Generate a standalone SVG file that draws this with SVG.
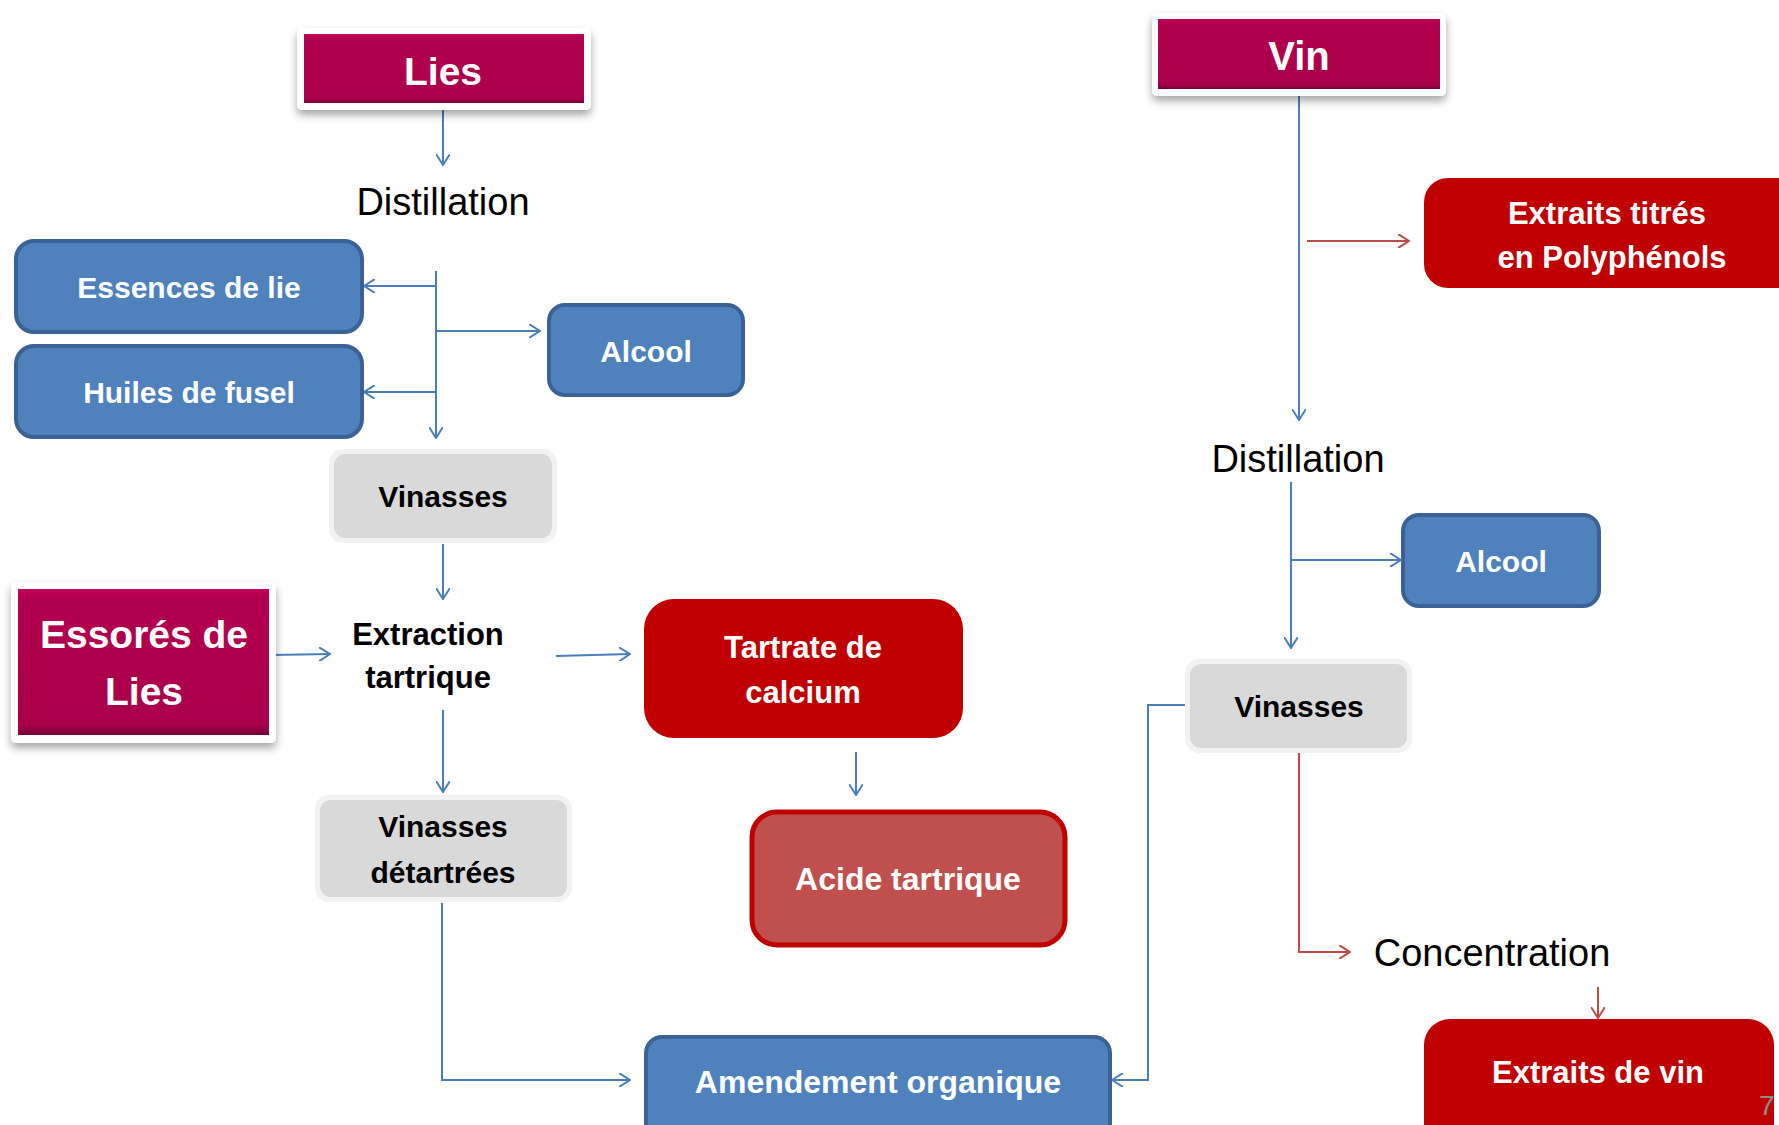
<svg xmlns="http://www.w3.org/2000/svg" width="1779" height="1125" viewBox="0 0 1779 1125">
<defs>
<style>
.t{font-family:"Liberation Sans",Arial,sans-serif;font-weight:bold;text-anchor:middle}
.w{fill:#FFFFFF}
.k{fill:#000000}
.r{font-family:"Liberation Sans",Arial,sans-serif;font-weight:normal;fill:#000;text-anchor:middle;font-size:38px}
.blue{fill:#4F81BD;stroke:#3B6296;stroke-width:4}
.grayo{fill:#F2F2F2}
.grayi{fill:#D9D9D9}
.red{fill:#C00000}
.cb{fill:none;stroke:#4A7EBB;stroke-width:2}
.cr{fill:none;stroke:#BE4B48;stroke-width:2}
</style>
<linearGradient id="mag" x1="0" y1="0" x2="0" y2="1">
<stop offset="0" stop-color="#C8005A"/>
<stop offset="0.05" stop-color="#B2004F"/>
<stop offset="0.93" stop-color="#AA004B"/>
<stop offset="1" stop-color="#730036"/>
</linearGradient>
<filter id="sh" x="-10%" y="-10%" width="120%" height="130%">
<feDropShadow dx="0" dy="5" stdDeviation="4" flood-color="#000" flood-opacity="0.35"/>
</filter>
<marker id="ab" viewBox="0 0 12 14" refX="11" refY="7" markerWidth="12" markerHeight="14" markerUnits="userSpaceOnUse" orient="auto">
<path d="M0,0 L11,7 L0,14" fill="none" stroke="#4A7EBB" stroke-width="2"/>
</marker>
<marker id="ar" viewBox="0 0 12 14" refX="11" refY="7" markerWidth="12" markerHeight="14" markerUnits="userSpaceOnUse" orient="auto">
<path d="M0,0 L11,7 L0,14" fill="none" stroke="#BE4B48" stroke-width="2"/>
</marker>
</defs>
<rect width="1779" height="1125" fill="#FFFFFF"/>

<g id="connectors">
<path class="cb" d="M443,104 V165" marker-end="url(#ab)"/>
<path class="cb" d="M436,271 V438" marker-end="url(#ab)"/>
<path class="cb" d="M436,286 H364" marker-end="url(#ab)"/>
<path class="cb" d="M436,331 H540" marker-end="url(#ab)"/>
<path class="cb" d="M436,392 H364" marker-end="url(#ab)"/>
<path class="cb" d="M443,544 V599" marker-end="url(#ab)"/>
<path class="cb" d="M272,655 L330,654" marker-end="url(#ab)"/>
<path class="cb" d="M556,656 L630,654" marker-end="url(#ab)"/>
<path class="cb" d="M856,752 V795" marker-end="url(#ab)"/>
<path class="cb" d="M443,710 V792" marker-end="url(#ab)"/>
<path class="cb" d="M442,903 V1080 H630" marker-end="url(#ab)"/>
<path class="cb" d="M1299,96 V420" marker-end="url(#ab)"/>
<path class="cr" d="M1307,241 H1409" marker-end="url(#ar)"/>
<path class="cb" d="M1291,482 V648" marker-end="url(#ab)"/>
<path class="cb" d="M1291,560 H1401" marker-end="url(#ab)"/>
<path class="cb" d="M1186,705 H1148 V1080 H1112" marker-end="url(#ab)"/>
<path class="cr" d="M1299,753 V952 H1350" marker-end="url(#ar)"/>
<path class="cr" d="M1598,987 V1018" marker-end="url(#ar)"/>
</g>

<g id="lies">
<rect x="297" y="28" width="294" height="82" rx="5" fill="#FFFFFF" filter="url(#sh)"/>
<rect x="304" y="34" width="280" height="69" fill="url(#mag)"/>
<text class="t w" x="443" y="85" font-size="39">Lies</text>
</g>

<g id="distillation1"><text class="r" x="443" y="215">Distillation</text></g>

<g id="essences">
<rect class="blue" x="16" y="241" width="346" height="91" rx="18"/>
<text class="t w" x="189" y="298" font-size="30">Essences de lie</text>
</g>

<g id="huiles">
<rect class="blue" x="16" y="346" width="346" height="91" rx="18"/>
<text class="t w" x="189" y="403" font-size="30">Huiles de fusel</text>
</g>

<g id="alcool1">
<rect class="blue" x="549" y="305" width="194" height="90" rx="16"/>
<text class="t w" x="646" y="362" font-size="30">Alcool</text>
</g>

<g id="vinasses1">
<rect class="grayo" x="329" y="449" width="228" height="94" rx="14"/>
<rect class="grayi" x="334" y="454" width="218" height="84" rx="11"/>
<text class="t k" x="443" y="507" font-size="30">Vinasses</text>
</g>

<g id="essores">
<rect x="11" y="582" width="265" height="161" rx="5" fill="#FFFFFF" filter="url(#sh)"/>
<rect x="18" y="589" width="251" height="146" fill="url(#mag)"/>
<text class="t w" x="144" y="648" font-size="39">Essorés de</text>
<text class="t w" x="144" y="705" font-size="39">Lies</text>
</g>

<g id="extraction">
<text class="t k" x="428" y="645" font-size="31">Extraction</text>
<text class="t k" x="428" y="688" font-size="31">tartrique</text>
</g>

<g id="tartrate">
<rect class="red" x="644" y="599" width="319" height="139" rx="30"/>
<text class="t w" x="803" y="658" font-size="31">Tartrate de</text>
<text class="t w" x="803" y="703" font-size="31">calcium</text>
</g>

<g id="acide">
<rect x="752" y="812" width="313" height="133" rx="25" fill="#C0504D" stroke="#C00000" stroke-width="5"/>
<text class="t w" x="908" y="890" font-size="32">Acide tartrique</text>
</g>

<g id="vinasses-detartrees">
<rect class="grayo" x="315" y="795" width="257" height="107" rx="14"/>
<rect class="grayi" x="320" y="800" width="247" height="97" rx="11"/>
<text class="t k" x="443" y="837" font-size="30">Vinasses</text>
<text class="t k" x="443" y="883" font-size="30">détartrées</text>
</g>

<g id="amendement">
<rect class="blue" x="646" y="1037" width="464" height="110" rx="16"/>
<text class="t w" x="878" y="1093" font-size="32">Amendement organique</text>
</g>

<g id="vin">
<rect x="1152" y="13" width="294" height="83" rx="5" fill="#FFFFFF" filter="url(#sh)"/>
<rect x="1158" y="19" width="282" height="70" fill="url(#mag)"/>
<text class="t w" x="1299" y="70" font-size="40">Vin</text>
</g>

<g id="extraits-titres">
<rect class="red" x="1424" y="178" width="380" height="110" rx="24"/>
<text class="t w" x="1607" y="224" font-size="31">Extraits titrés</text>
<text class="t w" x="1612" y="268" font-size="31">en Polyphénols</text>
</g>

<g id="distillation2"><text class="r" x="1298" y="472">Distillation</text></g>

<g id="alcool2">
<rect class="blue" x="1403" y="515" width="196" height="91" rx="16"/>
<text class="t w" x="1501" y="572" font-size="30">Alcool</text>
</g>

<g id="vinasses2">
<rect class="grayo" x="1185" y="659" width="227" height="94" rx="14"/>
<rect class="grayi" x="1190" y="664" width="217" height="84" rx="11"/>
<text class="t k" x="1299" y="717" font-size="30">Vinasses</text>
</g>

<g id="concentration"><text class="r" x="1492" y="966">Concentration</text></g>

<g id="extraits-vin">
<rect class="red" x="1424" y="1019" width="350" height="140" rx="26"/>
<text class="t w" x="1598" y="1083" font-size="31">Extraits de vin</text>
</g>

<text x="1759" y="1115" font-family="Liberation Sans,Arial,sans-serif" font-size="28" fill="#8C8C8C">7</text>
</svg>
